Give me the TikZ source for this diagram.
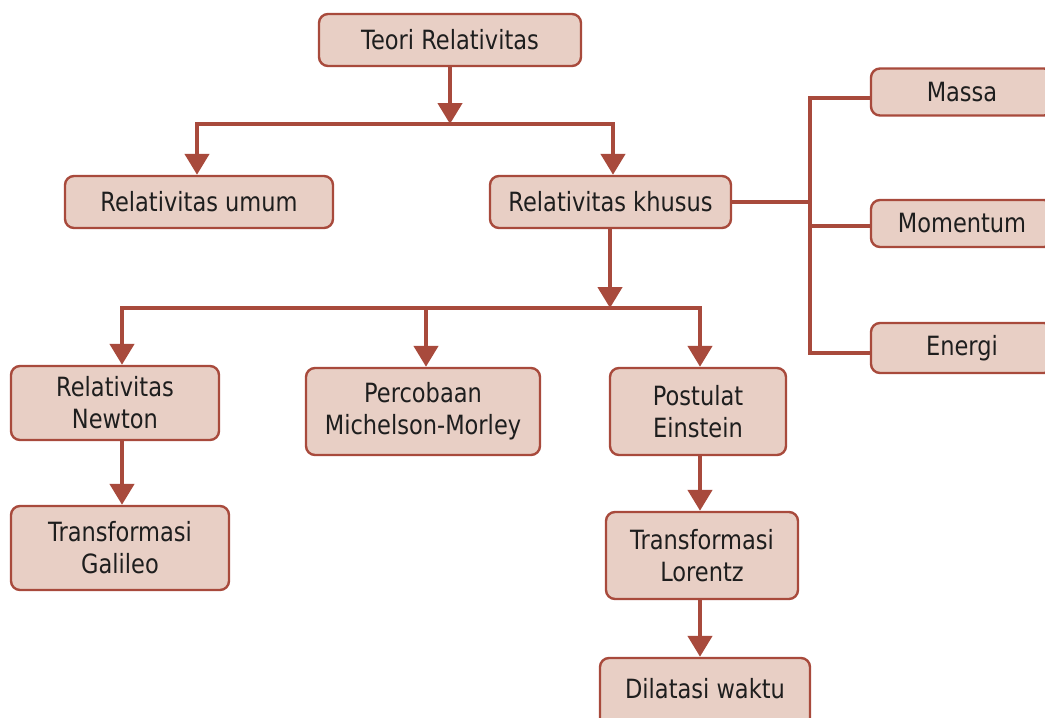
\documentclass[tikz,border=0pt]{standalone}
\usepackage{fontspec}
\setmainfont{DejaVu Sans}[FakeStretch=0.85]
\usetikzlibrary{arrows.meta,calc}
\definecolor{boxfill}{HTML}{E8CFC5}
\definecolor{boxline}{HTML}{A84A3C}
\definecolor{txt}{HTML}{1E1E1E}
\begin{document}
\begin{tikzpicture}[x=1pt,y=-1pt,
  box/.style={draw=boxline,fill=boxfill,line width=2.4pt,rounded corners=9pt,
    inner sep=0pt,align=center,text=txt,
    font=\fontsize{26.5}{32}\selectfont},
  conn/.style={draw=boxline,line width=4.5pt},
  arr/.style={conn,-{Triangle[width=24pt,length=21pt]}}]
\useasboundingbox (0,0) rectangle (1045,718);
\clip (0,0) rectangle (1045,718);
% nodes
\node[box,minimum width=262pt,minimum height=52pt] (teori) at (450,40) {Teori Relativitas};
\node[box,minimum width=268pt,minimum height=52pt] (umum) at (199,202) {Relativitas umum};
\node[box,minimum width=241pt,minimum height=52pt] (khusus) at (610.5,202) {Relativitas khusus};
\node[box,minimum width=182pt,minimum height=47pt] (massa) at (962,92) {Massa};
\node[box,minimum width=182pt,minimum height=47pt] (momentum) at (962,223.5) {Momentum};
\node[box,minimum width=182pt,minimum height=50pt] (energi) at (962,348) {Energi};
\node[box,minimum width=208pt,minimum height=74pt] (newton) at (115,403) {Relativitas\\Newton};
\node[box,minimum width=234pt,minimum height=87pt] (michelson) at (423,411.5) {Percobaan\\Michelson-Morley};
\node[box,minimum width=176pt,minimum height=87pt] (postulat) at (698,411.5) {Postulat\\Einstein};
\node[box,minimum width=218pt,minimum height=84pt] (galileo) at (120,548) {Transformasi\\Galileo};
\node[box,minimum width=192pt,minimum height=87pt] (lorentz) at (702,555.5) {Transformasi\\Lorentz};
\node[box,minimum width=210pt,minimum height=70pt] (dilatasi) at (705,693) {};
\node[text=txt,font=\fontsize{26.5}{32}\selectfont,inner sep=0pt] (dilatasitxt) at (705,689) {Dilatasi waktu};
% junction coordinates
\coordinate (j1) at (450,124);
\coordinate (j2) at (610,308);
\coordinate (r) at (810,202);
\coordinate (mtop) at ($(michelson.north)+(3,0)$);
\coordinate (ma) at ($(massa.west)+(0,6)$);
\coordinate (mo) at ($(momentum.west)+(0,2.5)$);
\coordinate (en) at ($(energi.west)+(0,5)$);
% top level
\draw[arr] (teori.south) -- (j1);
\draw[arr] (j1) -| ([xshift=-2pt]umum.north);
\draw[arr] (j1) -| ([xshift=2.5pt]khusus.north);
% khusus down
\draw[arr] (khusus.south -| j2) -- (j2);
\draw[arr] (j2) -| ([xshift=7pt]newton.north);
\draw[arr] (j2 -| mtop) -- (mtop);
\draw[arr] (j2) -| ([xshift=2pt]postulat.north);
% right tree
\draw[conn] (khusus.east) -- (r);
\draw[conn] (ma) -| (en -| r) -- (en);
\draw[conn] (mo) -- (mo -| r);
% lower chains
\draw[arr] ([xshift=7pt]newton.south) -- ([xshift=7pt]newton.south |- galileo.north);
\draw[arr] ([xshift=2pt]postulat.south) -- ([xshift=2pt]postulat.south |- lorentz.north);
\draw[arr] ([xshift=-2pt]lorentz.south) -- ([xshift=-2pt]lorentz.south |- dilatasi.north);
\end{tikzpicture}
\end{document}
